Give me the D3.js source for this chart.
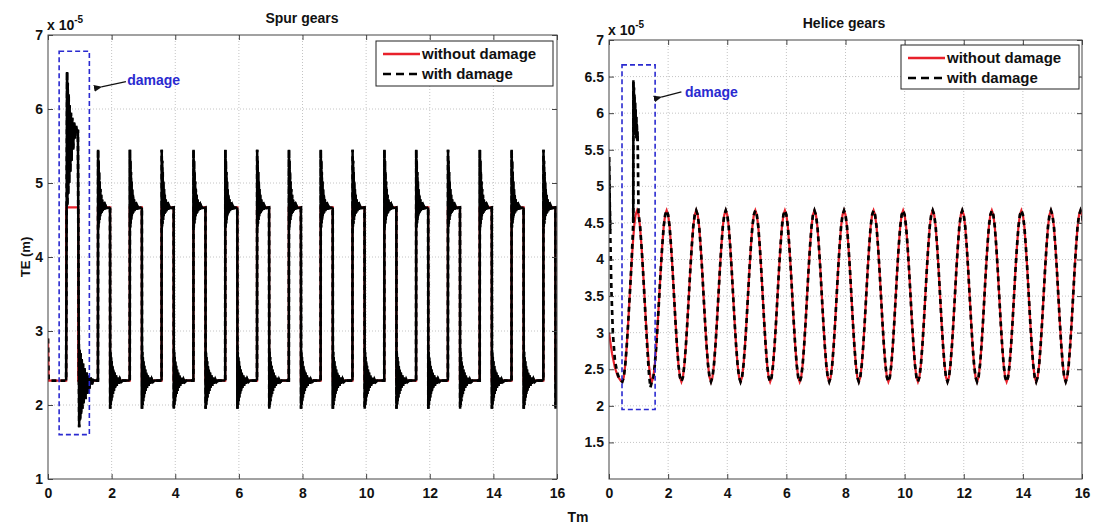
<!DOCTYPE html>
<html>
<head>
<meta charset="utf-8">
<script src="https://cdn.jsdelivr.net/npm/d3@7"></script>
<style>
  body { margin: 0; background: #fff; }
  text { font-family: "Liberation Sans", Arial, sans-serif; font-weight: bold; fill: #111; }
</style>
</head>
<body>
<svg id="chart" width="1093" height="525"></svg>
<script>
// ---- data (TE in units of 1e-5 m, time in Tm) ----

// spur gears, cycle starts (rising edges)
const spurRises = [0.57, 1.57, 2.57, 3.57, 4.57, 5.57, 6.57, 7.57, 8.57, 9.57, 10.57, 11.57, 12.57, 13.57, 14.57, 15.57]

// healthy spur: start + one cycle (dt from rise, value)
const spurStartH = [[0, 2.9], [0.02, 2.33]]
const spurCycleH = [[0, 2.33], [0, 4.67], [0.38, 4.67], [0.38, 2.33], [1, 2.33]]

// damaged spur: start, the damaged first cycle, and the ringing of a normal cycle
const spurStartD = [[0, 2.9], [0.02, 2.33], [0.57, 2.33]]
const spurFirstRise = [[0.57, 2.33], [0.6, 6.5], [0.61, 4.7], [0.62, 6.35], [0.635, 4.85], [0.65, 6.2], [0.665, 5.0], [0.68, 6.05], [0.7, 5.15], [0.72, 5.95], [0.74, 5.3], [0.76, 5.88], [0.79, 5.45], [0.82, 5.82], [0.85, 5.6], [0.88, 5.77], [0.91, 5.68], [0.94, 5.72]]
const spurFirstFall = [[0.94, 5.72], [0.98, 1.7], [0.995, 2.75], [1.01, 1.8], [1.025, 2.7], [1.04, 1.88], [1.06, 2.62], [1.08, 1.95], [1.1, 2.56], [1.12, 2.02], [1.15, 2.5], [1.18, 2.08], [1.21, 2.44], [1.24, 2.15], [1.27, 2.4], [1.3, 2.22], [1.34, 2.37], [1.38, 2.28], [1.42, 2.34], [1.47, 2.33], [1.57, 2.33]]
const spurRiseRing = [[0, 2.33], [0.005, 5.45], [0.012, 4.4], [0.02, 5.3], [0.028, 4.45], [0.036, 5.15], [0.045, 4.5], [0.055, 5.02], [0.065, 4.55], [0.075, 4.92], [0.088, 4.58], [0.1, 4.84], [0.115, 4.6], [0.13, 4.78], [0.15, 4.62], [0.17, 4.74], [0.2, 4.64], [0.23, 4.7], [0.27, 4.66], [0.38, 4.67]]
const spurFallRing = [[0.38, 4.67], [0.385, 1.95], [0.393, 2.72], [0.402, 2.0], [0.41, 2.65], [0.42, 2.05], [0.43, 2.59], [0.442, 2.1], [0.455, 2.53], [0.47, 2.15], [0.485, 2.48], [0.5, 2.19], [0.52, 2.44], [0.54, 2.23], [0.565, 2.4], [0.59, 2.26], [0.62, 2.37], [0.65, 2.29], [0.69, 2.35], [0.73, 2.31], [0.78, 2.33], [1, 2.33]]

// helice gears, cycle starts (troughs)
const heliceTroughs = [0.45, 1.45, 2.45, 3.45, 4.45, 5.45, 6.45, 7.45, 8.45, 9.45, 10.45, 11.45, 12.45, 13.45, 14.45, 15.45]
const heliceStartH = [[0, 3.0], [0.1, 2.72], [0.2, 2.52], [0.3, 2.4], [0.4, 2.34]]
const heliceCycle = [[0, 2.33], [0.05, 2.39], [0.1, 2.56], [0.15, 2.82], [0.2, 3.14], [0.25, 3.5], [0.3, 3.86], [0.35, 4.18], [0.4, 4.45], [0.45, 4.61], [0.5, 4.67], [0.55, 4.61], [0.6, 4.45], [0.65, 4.18], [0.7, 3.86], [0.75, 3.5], [0.8, 3.14], [0.85, 2.82], [0.9, 2.56], [0.95, 2.39]]

const heliceStartD = [[0, 5.4], [0.04, 4.4], [0.08, 3.6], [0.13, 3.0], [0.2, 2.62], [0.28, 2.45], [0.36, 2.36]]
const heliceFirstRise = [[0.45, 2.33], [0.5, 2.39], [0.55, 2.56], [0.6, 2.82], [0.65, 3.14], [0.7, 3.5], [0.75, 3.86], [0.8, 4.3], [0.82, 4.5]]
const heliceFirstSpike = [[0.82, 4.5], [0.825, 6.45], [0.833, 5.75], [0.842, 6.35], [0.85, 5.78], [0.86, 6.25], [0.87, 5.76], [0.88, 6.15], [0.89, 5.72], [0.9, 6.05], [0.91, 5.7], [0.92, 5.95], [0.93, 5.66], [0.94, 5.85], [0.95, 5.64], [0.96, 5.75], [0.97, 5.62]]
const heliceFirstFall = [[0.97, 5.62], [1.0, 4.62], [1.05, 4.46], [1.1, 4.18], [1.15, 3.85], [1.2, 3.48], [1.25, 3.1], [1.3, 2.76], [1.35, 2.45], [1.4, 2.25], [1.45, 2.33]]

// ticks
const spurYTicks = [1, 2, 3, 4, 5, 6, 7]
const heliceYTicks = [1.5, 2, 2.5, 3, 3.5, 4, 4.5, 5, 5.5, 6, 6.5, 7]
const xTicks = [0, 2, 4, 6, 8, 10, 12, 14, 16]

// damage boxes [x0, x1, y0, y1]
const spurBox = [0.35, 1.3, 1.6, 6.78]
const heliceBox = [0.44, 1.56, 1.95, 6.66]

const legendLabels = ['without damage', 'with damage']

// ---- helpers ----
const svg = d3.select('#chart')

const defs = svg.append('defs')
defs.append('marker')
  .attr('id', 'arrow')
  .attr('viewBox', '0 0 10 10')
  .attr('refX', 1).attr('refY', 5)
  .attr('markerWidth', 7).attr('markerHeight', 7)
  .attr('orient', 'auto')
  .append('path')
  .attr('d', 'M10,1 L0,5 L10,9 Z')
  .attr('fill', '#111')

function shift (profile, t0) {
  return profile.map(p => [p[0] + t0, p[1]])
}

function drawPanel (opts) {
  const x = d3.scaleLinear().domain([0, 16]).range([opts.left, opts.right])
  const y = d3.scaleLinear().domain([1, 7]).range([opts.bottom, opts.top])
  const g = svg.append('g')

  defs.append('clipPath').attr('id', opts.id + '-clip')
    .append('rect')
    .attr('x', opts.left).attr('y', opts.top)
    .attr('width', opts.right - opts.left).attr('height', opts.bottom - opts.top)

  // grid
  g.selectAll('.gx').data(xTicks.slice(1, -1)).join('line')
    .attr('x1', d => x(d)).attr('x2', d => x(d))
    .attr('y1', opts.top).attr('y2', opts.bottom)
    .attr('stroke', '#c4c4c4').attr('stroke-dasharray', '1,2')
  g.selectAll('.gy').data(opts.yTicks.filter(d => d > 1 && d < 7)).join('line')
    .attr('x1', opts.left).attr('x2', opts.right)
    .attr('y1', d => y(d)).attr('y2', d => y(d))
    .attr('stroke', '#c4c4c4').attr('stroke-dasharray', '1,2')

  const line = d3.line().x(d => x(d[0])).y(d => y(d[1]))
  const plot = g.append('g').attr('clip-path', `url(#${opts.id}-clip)`)

  plot.append('path').attr('d', line(opts.healthy))
    .attr('fill', 'none').attr('stroke', '#e8212b').attr('stroke-width', 2.2)
  plot.append('path').attr('d', line(opts.damaged))
    .attr('fill', 'none').attr('stroke', '#000').attr('stroke-width', 2.7)
    .attr('stroke-dasharray', '5,4')
  opts.rings.forEach(r => {
    plot.append('path').attr('d', line(r))
      .attr('fill', 'none').attr('stroke', '#000').attr('stroke-width', 2.5)
  })

  // damage box
  const b = opts.box
  g.append('rect')
    .attr('x', x(b[0])).attr('y', y(b[3]))
    .attr('width', x(b[1]) - x(b[0])).attr('height', y(b[2]) - y(b[3]))
    .attr('fill', 'none').attr('stroke', '#2a2ad0').attr('stroke-width', 1.6)
    .attr('stroke-dasharray', '5,3')

  // axes box + inward ticks
  g.append('rect')
    .attr('x', opts.left).attr('y', opts.top)
    .attr('width', opts.right - opts.left).attr('height', opts.bottom - opts.top)
    .attr('fill', 'none').attr('stroke', '#444').attr('stroke-width', 1)

  const xAxis = d3.axisBottom(x).tickValues(xTicks).tickSize(-5).tickPadding(9).tickFormat(d3.format('d'))
  const xa = g.append('g').attr('transform', `translate(0,${opts.bottom})`).call(xAxis)
  g.append('g').attr('transform', `translate(0,${opts.top})`)
    .call(d3.axisTop(x).tickValues(xTicks).tickSize(-5).tickFormat(''))
  const yAxis = d3.axisLeft(y).tickValues(opts.yTicks).tickSize(-5).tickPadding(5)
    .tickFormat(d => d === 1 && opts.hideOne ? '' : d3.format('')(d))
  const ya = g.append('g').attr('transform', `translate(${opts.left},0)`).call(yAxis)
  g.append('g').attr('transform', `translate(${opts.right},0)`)
    .call(d3.axisRight(y).tickValues(opts.yTicks).tickSize(-5).tickFormat(''))
  g.selectAll('.domain').remove()
  g.selectAll('.tick line').attr('stroke', '#444')
  xa.selectAll('text').style('font-size', '14px').attr('fill', '#111')
  ya.selectAll('text').style('font-size', '14px').attr('fill', '#111')

  // exponent
  const ex = g.append('text').attr('x', opts.left - 1).attr('y', opts.top - 5).style('font-size', '14px')
  ex.append('tspan').text('x 10')
  ex.append('tspan').attr('dy', -7).style('font-size', '10px').text('-5')

  // title
  g.append('text').attr('x', opts.titleX).attr('y', opts.top - 12)
    .attr('text-anchor', 'middle').style('font-size', '14px').text(opts.title)

  // damage annotation
  const a = opts.note
  g.append('line')
    .attr('x1', x(a[2])).attr('y1', y(a[3]))
    .attr('x2', x(a[4])).attr('y2', y(a[5]))
    .attr('stroke', '#111').attr('stroke-width', 1.2)
    .attr('marker-end', 'url(#arrow)')
  g.append('text').attr('x', x(a[0])).attr('y', y(a[1]) + 5)
    .style('font-size', '14px').style('fill', '#2a2ad0').text('damage')

  // legend
  const L = opts.legend
  const lg = g.append('g').attr('transform', `translate(${L[0]},${L[1]})`)
  lg.append('rect').attr('width', L[2]).attr('height', L[3])
    .attr('fill', '#fff').attr('stroke', '#222').attr('stroke-width', 1)
  lg.append('line').attr('x1', 7).attr('x2', 44).attr('y1', 13).attr('y2', 13)
    .attr('stroke', '#e8212b').attr('stroke-width', 2.5)
  lg.append('line').attr('x1', 7).attr('x2', 44).attr('y1', 33).attr('y2', 33)
    .attr('stroke', '#000').attr('stroke-width', 2.7).attr('stroke-dasharray', '8,5')
  lg.selectAll('.lt').data(legendLabels).join('text')
    .attr('x', 46).attr('y', (d, i) => 18 + i * 20)
    .style('font-size', '15px').text(d => d)
}

// ---- build series ----
let spurHealthy = spurStartH.slice()
spurRises.forEach(r => { spurHealthy = spurHealthy.concat(shift(spurCycleH, r)) })

let spurDamaged = spurStartD.concat(spurFirstRise, spurFirstFall)
const spurRings = [spurFirstRise, spurFirstFall]
spurRises.slice(1).forEach(r => {
  spurDamaged = spurDamaged.concat(shift(spurRiseRing, r), shift(spurFallRing, r))
  spurRings.push(shift(spurRiseRing, r), shift(spurFallRing, r))
})

let heliceHealthy = heliceStartH.slice()
heliceTroughs.forEach(t => { heliceHealthy = heliceHealthy.concat(shift(heliceCycle, t)) })
heliceHealthy.push([16.45, 2.33])

let heliceDamaged = heliceStartD.concat(heliceFirstRise, heliceFirstSpike, heliceFirstFall)
heliceTroughs.slice(1).forEach(t => { heliceDamaged = heliceDamaged.concat(shift(heliceCycle, t)) })
heliceDamaged.push([16.45, 2.33])

drawPanel({
  id: 'spur', left: 48, right: 557, top: 35, bottom: 479,
  yTicks: spurYTicks, hideOne: false, title: 'Spur gears', titleX: 302,
  healthy: spurHealthy, damaged: spurDamaged, rings: spurRings,
  box: spurBox, note: [2.49, 6.39, 2.45, 6.37, 1.68, 6.3],
  legend: [376, 41, 177, 45]
})

drawPanel({
  id: 'helice', left: 609, right: 1082, top: 40, bottom: 479,
  yTicks: heliceYTicks, hideOne: true, title: 'Helice gears', titleX: 844,
  healthy: heliceHealthy, damaged: heliceDamaged, rings: [heliceStartD.slice(0, 2), heliceFirstSpike],
  box: heliceBox, note: [2.57, 6.29, 2.45, 6.29, 1.77, 6.22],
  legend: [901, 45, 178, 44]
})

// shared axis labels
svg.append('text').attr('transform', 'translate(30,257) rotate(-90)')
  .attr('text-anchor', 'middle').style('font-size', '13px').text('TE (m)')
svg.append('text').attr('x', 578).attr('y', 522)
  .attr('text-anchor', 'middle').style('font-size', '14px').text('Tm')
</script>
</body>
</html>
